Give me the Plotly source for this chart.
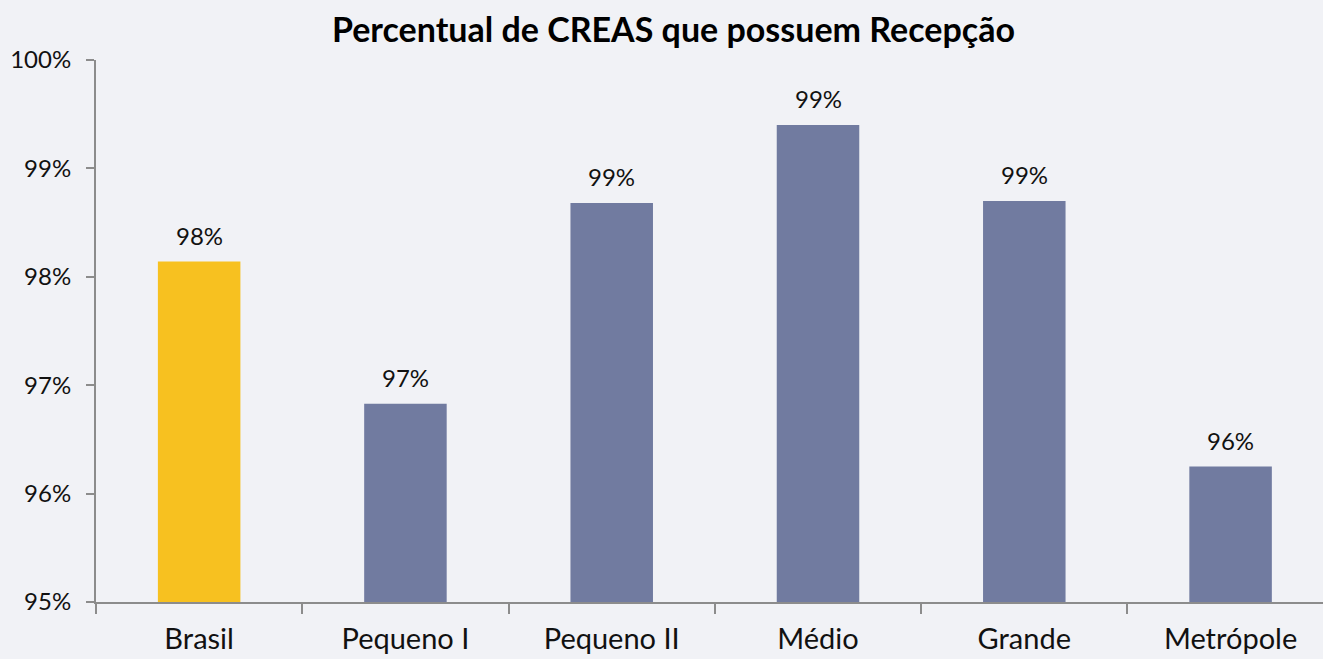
import plotly.graph_objects as go

categories = ["Brasil", "Pequeno I", "Pequeno II", "Médio", "Grande", "Metrópole"]
values = [0.9814, 0.9683, 0.9868, 0.9940, 0.9870, 0.9625]
bar_colors = ["#F7C120", "#717BA0", "#717BA0", "#717BA0", "#717BA0", "#717BA0"]
y_ticks = [0.95, 0.96, 0.97, 0.98, 0.99, 1.00]

FONT = "Lato"

fig = go.Figure(go.Bar(
    x=categories,
    y=values,
    width=0.40,
    marker=dict(color=bar_colors, line=dict(width=0)),
    hoverinfo="x+y",
))

for c, v in zip(categories, values):
    fig.add_annotation(
        x=c, y=v, text=f"{v:.0%}", showarrow=False,
        yanchor="bottom", yshift=10,
        font=dict(family=FONT, size=24, color="#111111"),
    )

fig.update_layout(
    width=1323, height=659,
    paper_bgcolor="#F1F2F6", plot_bgcolor="#F1F2F6",
    margin=dict(l=96, r=0, t=60, b=57),
    title=dict(text="<b>Percentual de CREAS que possuem Recepção</b>",
               x=0.509, xanchor="center", y=0.955, yanchor="middle",
               font=dict(family=FONT, size=34, color="#000000")),
    showlegend=False,
)

fig.update_xaxes(
    range=[-0.5, 5.448],
    showline=True, linecolor="#8C8C8C", linewidth=2,
    ticks="outside", tickson="boundaries", ticklen=10, tickcolor="#8C8C8C", tickwidth=2,
    tickfont=dict(family=FONT, size=29, color="#111111"),
    ticklabelstandoff=10,
    showgrid=False, zeroline=False,
)
fig.update_yaxes(
    range=[0.95, 1.00],
    tickvals=y_ticks, tickformat=".0%",
    showline=True, linecolor="#8C8C8C", linewidth=2,
    ticks="outside", ticklen=8, tickcolor="#8C8C8C", tickwidth=2,
    tickfont=dict(family=FONT, size=24, color="#111111"),
    ticklabelstandoff=10,
    showgrid=False, zeroline=False,
)

fig.write_html(
    "out.html",
    config={"displayModeBar": False},
    post_script="document.body.style.margin='0';document.body.style.overflow='hidden';",
)
